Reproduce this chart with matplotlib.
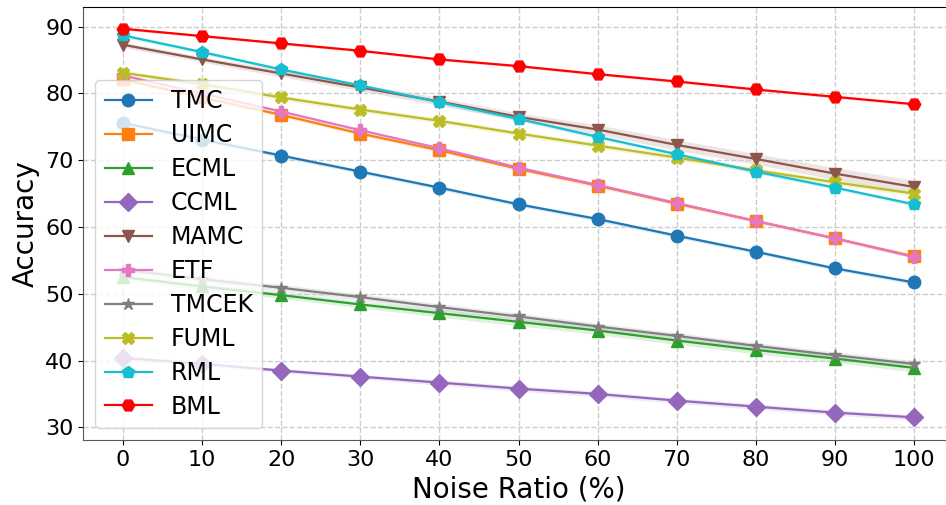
import matplotlib
matplotlib.use("Agg")
import matplotlib.pyplot as plt
import numpy as np

noise = [0, 10, 20, 30, 40, 50, 60, 70, 80, 90, 100]

methods = ["TMC", "UIMC", "ECML", "CCML", "MAMC", "ETF", "TMCEK", "FUML", "RML", "BML"]

tmc = [75.6, 73.1, 70.7, 68.3, 65.9, 63.4, 61.2, 58.7, 56.3, 53.8, 51.7]
uimc = [82.1, 79.4, 76.8, 74.0, 71.5, 68.7, 66.2, 63.5, 60.9, 58.3, 55.6]
ecml = [52.5, 51.1, 49.8, 48.4, 47.1, 45.8, 44.5, 43.0, 41.6, 40.3, 38.9]
ccml = [40.4, 39.5, 38.5, 37.6, 36.7, 35.8, 35.0, 34.0, 33.1, 32.2, 31.5]
mamc = [87.3, 85.1, 83.0, 80.9, 78.8, 76.5, 74.6, 72.3, 70.2, 68.0, 66.0]
etf = [82.7, 80.0, 77.3, 74.5, 71.8, 68.9, 66.3, 63.6, 60.9, 58.3, 55.5]
tmcek = [53.6, 52.2, 50.9, 49.5, 48.0, 46.6, 45.1, 43.7, 42.2, 40.8, 39.5]
fuml = [83.1, 81.4, 79.4, 77.6, 75.9, 74.0, 72.2, 70.4, 68.5, 66.7, 65.0]
rml = [88.7, 86.2, 83.6, 81.2, 78.7, 76.2, 73.5, 70.9, 68.3, 65.9, 63.4]
bml = [89.7, 88.6, 87.5, 86.4, 85.1, 84.1, 82.9, 81.8, 80.6, 79.5, 78.4]

# spread of the shaded bands
tmc_std = [0.3, 0.3, 0.3, 0.3, 0.3, 0.3, 0.3, 0.3, 0.3, 0.3, 0.3]
uimc_std = [0.3, 0.3, 0.3, 0.3, 0.3, 0.3, 0.3, 0.3, 0.3, 0.3, 0.3]
ecml_std = [0.4, 0.5, 0.5, 0.5, 0.6, 0.6, 0.6, 0.6, 0.6, 0.6, 0.6]
ccml_std = [0.3, 0.3, 0.3, 0.3, 0.4, 0.4, 0.4, 0.4, 0.4, 0.4, 0.4]
mamc_std = [0.4, 0.4, 0.5, 0.5, 0.6, 0.6, 0.7, 0.8, 0.8, 0.9, 1.0]
etf_std = [0.2, 0.2, 0.2, 0.2, 0.2, 0.2, 0.2, 0.2, 0.2, 0.2, 0.2]
tmcek_std = [0.4, 0.4, 0.5, 0.5, 0.5, 0.5, 0.5, 0.5, 0.5, 0.5, 0.5]
fuml_std = [0.4, 0.4, 0.4, 0.4, 0.4, 0.4, 0.4, 0.4, 0.4, 0.4, 0.4]
rml_std = [0.3, 0.3, 0.3, 0.3, 0.3, 0.3, 0.3, 0.3, 0.3, 0.3, 0.3]
bml_std = [0.2, 0.2, 0.2, 0.2, 0.2, 0.2, 0.2, 0.2, 0.2, 0.2, 0.2]

values = [tmc, uimc, ecml, ccml, mamc, etf, tmcek, fuml, rml, bml]
stds = [tmc_std, uimc_std, ecml_std, ccml_std, mamc_std, etf_std, tmcek_std,
        fuml_std, rml_std, bml_std]
markers = ["o", "s", "^", "D", "v", "P", "*", "X", "p", "H"]
colors = ["C0", "C1", "C2", "C4", "C5", "C6", "C7", "C8", "C9", "red"]

fig = plt.figure(figsize=(9.46, 5.05), dpi=100)
ax = fig.add_axes([83.4 / 946, 1 - 440 / 505, 870.2 / 946, 433.3 / 505])

for name, v, s, m, c in zip(methods, values, stds, markers, colors):
    v = np.array(v)
    s = np.array(s)
    ax.fill_between(noise, v - s, v + s, color=c, alpha=0.15, lw=0)
    ax.plot(noise, v, marker=m, color=c, lw=1.6, markersize=9, label=name)

ax.set_xlim(-5, 105)
ax.set_ylim(28.1, 93.0)
ax.set_xticks(noise)
ax.set_yticks([30, 40, 50, 60, 70, 80, 90])
ax.tick_params(labelsize=16)
ax.set_xlabel("Noise Ratio (%)", fontsize=20)
ax.set_ylabel("Accuracy", fontsize=20)
ax.grid(True, linestyle="--", color="0.8", lw=1)
ax.spines["bottom"].set_color("0.35")
ax.spines["left"].set_color("0.35")
ax.legend(loc="lower left", fontsize=17, labelspacing=0.42)

fig.savefig("out.png", dpi=100)
